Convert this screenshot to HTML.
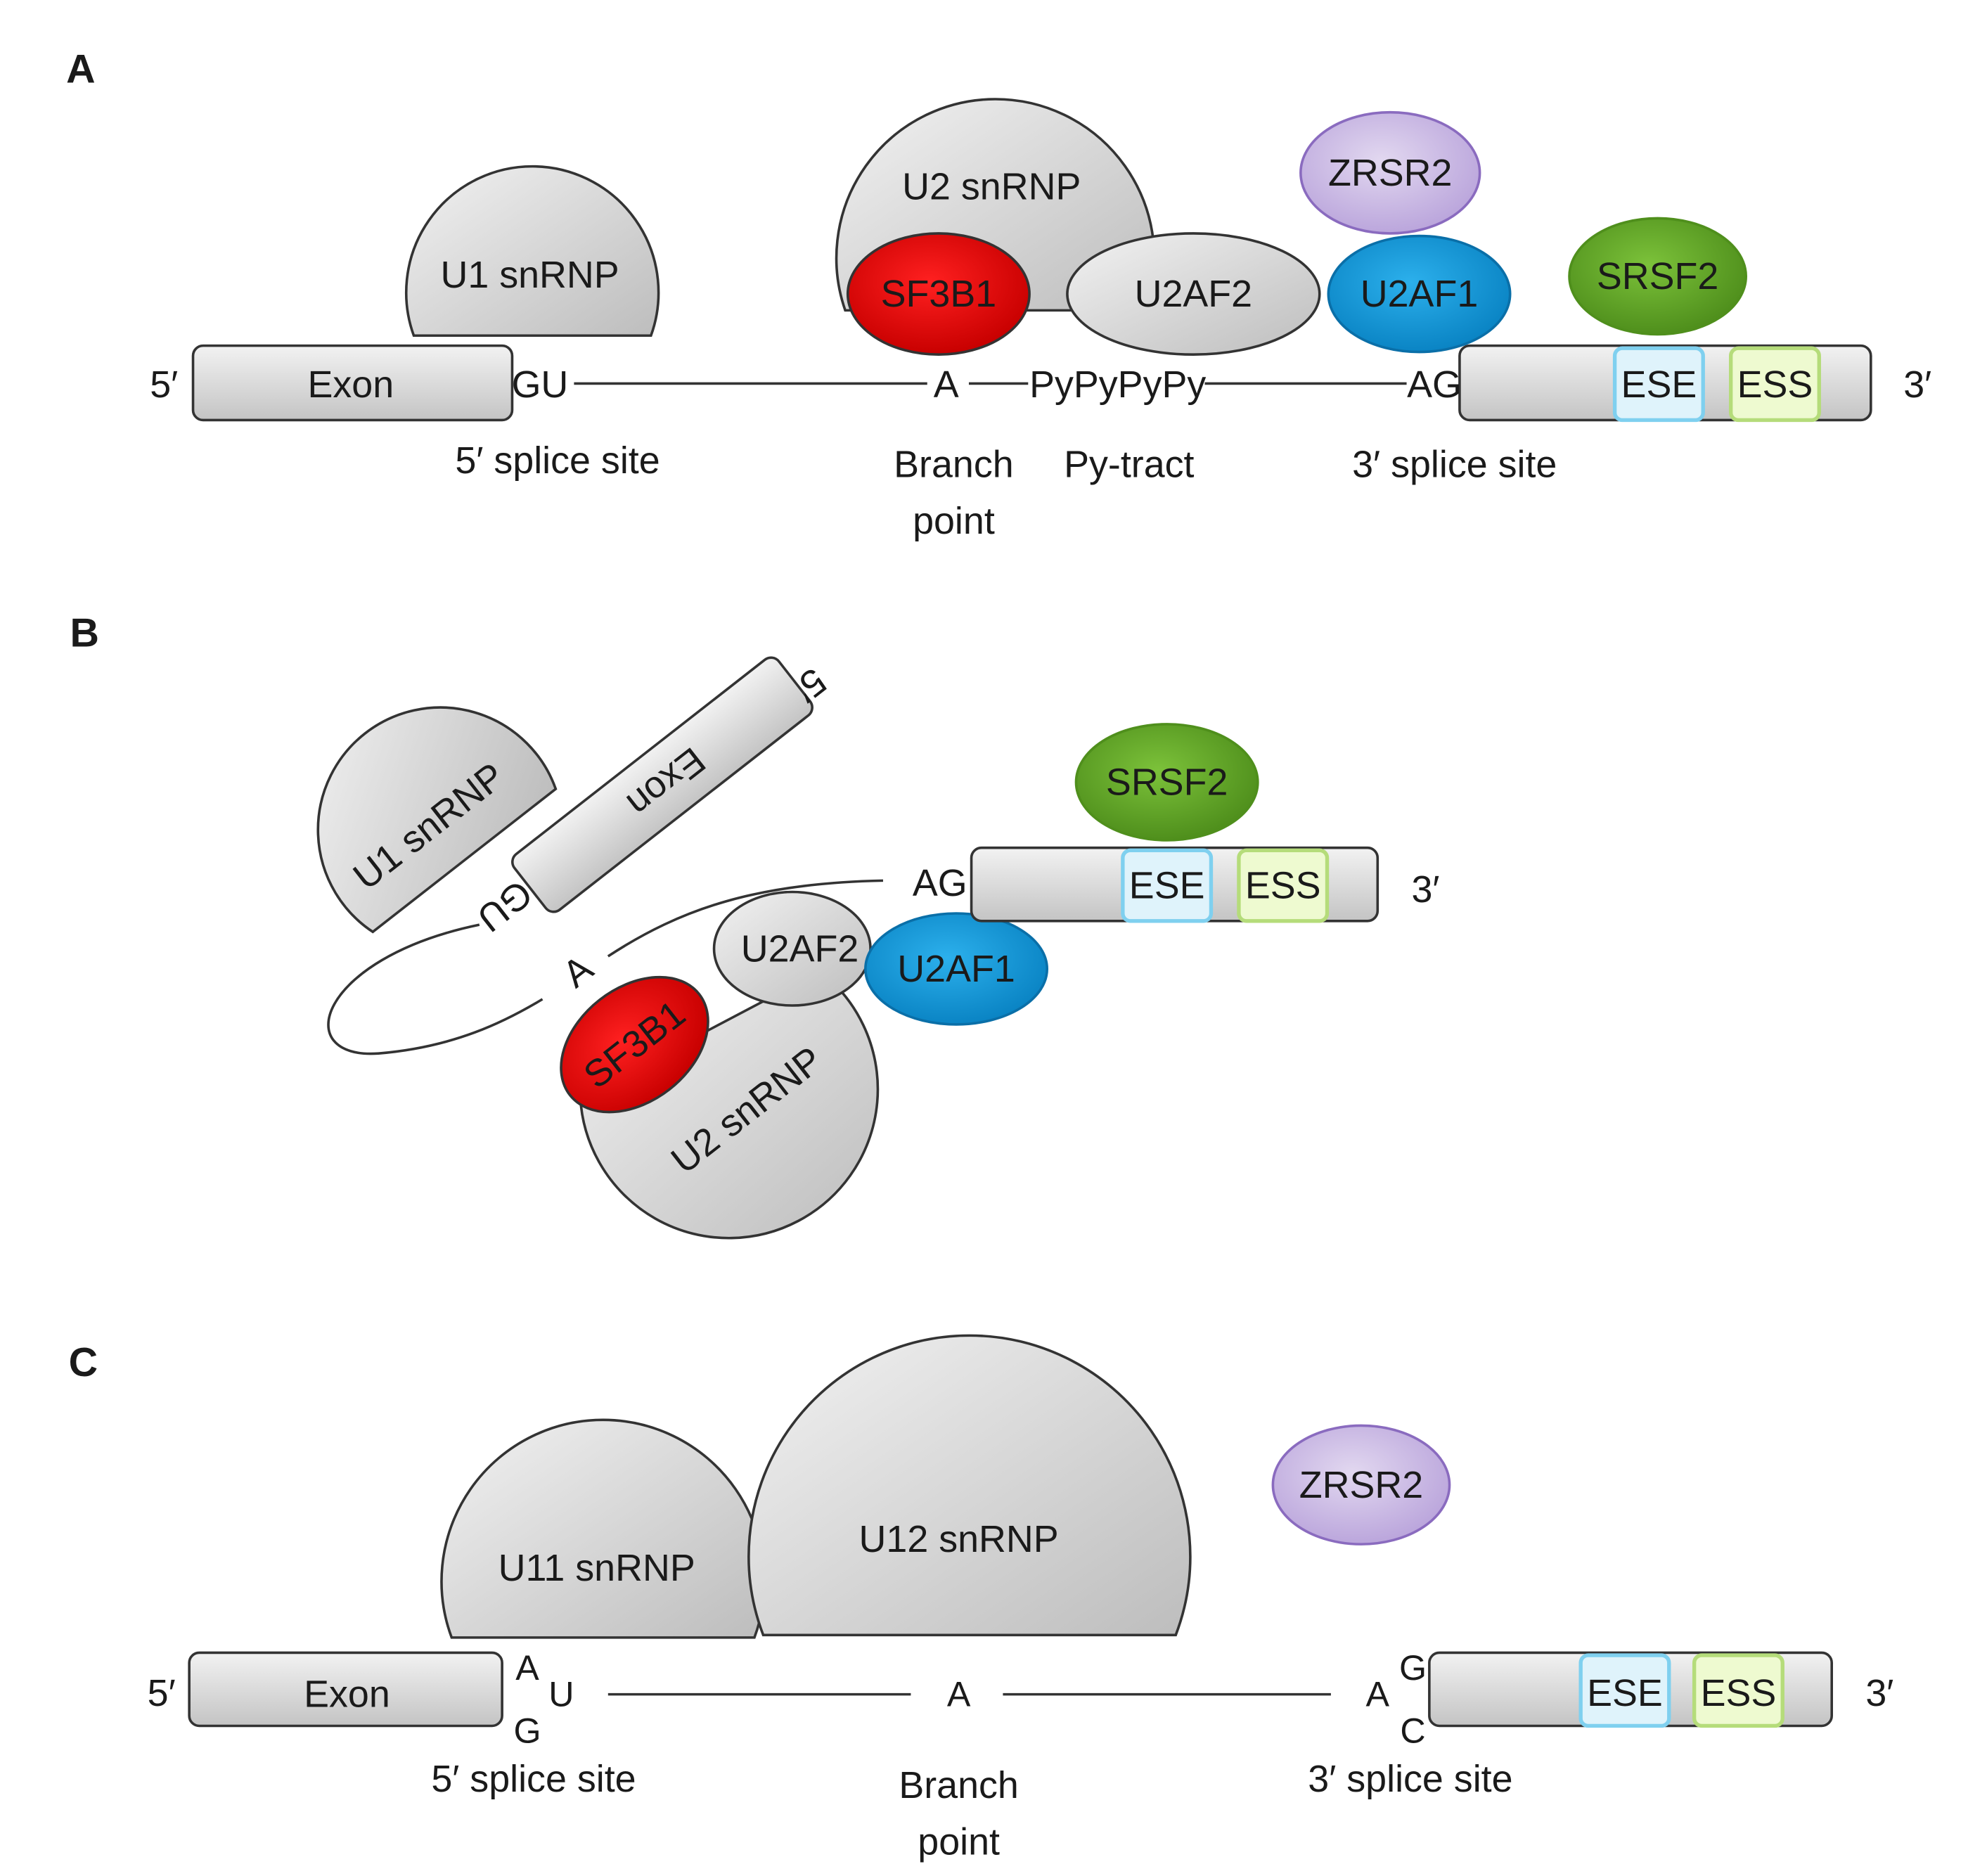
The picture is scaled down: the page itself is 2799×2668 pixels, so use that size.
<!DOCTYPE html>
<html><head><meta charset="utf-8"><style>
html,body{margin:0;padding:0;background:#fff}
svg{display:block}
text{font-family:"Liberation Sans",sans-serif;fill:#1a1a1a}
</style></head><body>
<svg width="2799" height="2668" viewBox="0 0 1560 1487" xmlns="http://www.w3.org/2000/svg">
<defs>
<linearGradient id="g" x1="0" y1="0" x2="1" y2="1"><stop offset="0" stop-color="#f2f2f2"/><stop offset="1" stop-color="#bdbdbd"/></linearGradient>
<linearGradient id="gb" x1="0" y1="0" x2="0" y2="1"><stop offset="0" stop-color="#f2f2f2"/><stop offset="1" stop-color="#c4c4c4"/></linearGradient>
<radialGradient id="red" cx="0.45" cy="0.4" r="0.6"><stop offset="0" stop-color="#ff2020"/><stop offset="1" stop-color="#c80000"/></radialGradient>
<radialGradient id="blue" cx="0.45" cy="0.4" r="0.6"><stop offset="0" stop-color="#2cb0ec"/><stop offset="1" stop-color="#0a84c4"/></radialGradient>
<radialGradient id="green" cx="0.45" cy="0.4" r="0.6"><stop offset="0" stop-color="#7cc23a"/><stop offset="1" stop-color="#4f8f1c"/></radialGradient>
<radialGradient id="purple" cx="0.45" cy="0.4" r="0.6"><stop offset="0" stop-color="#e2d8f0"/><stop offset="1" stop-color="#bba6dc"/></radialGradient>
</defs>
<g stroke="#333" stroke-width="2">
<!-- Panel A -->
<rect x="153" y="274" width="253" height="59" rx="8" fill="url(#gb)"/>
<path d="M328 266 A100 100 0 1 1 516 266 Z" fill="url(#g)"/>
<line x1="455" y1="304" x2="735" y2="304"/>
<line x1="768" y1="304" x2="815" y2="304"/>
<line x1="955" y1="304" x2="1115" y2="304"/>
<rect x="1157" y="274" width="326" height="59" rx="8" fill="url(#gb)"/>
<rect x="1280" y="276" width="70" height="57" rx="6" fill="#dff3fb" stroke="#7fd0ef" stroke-width="3"/>
<rect x="1372" y="276" width="70" height="57" rx="6" fill="#eefad0" stroke="#b5dc7a" stroke-width="3"/>
<path d="M670 246 A126 126 0 1 1 908 246 Z" fill="url(#g)"/>
<ellipse cx="744" cy="233" rx="72" ry="48" fill="url(#red)"/>
<ellipse cx="946" cy="233" rx="100" ry="48" fill="url(#g)"/>
<ellipse cx="1125" cy="233" rx="72" ry="46" fill="url(#blue)" stroke="#0a6fa8"/>
<ellipse cx="1102" cy="137" rx="71" ry="48" fill="url(#purple)" stroke="#8a6bbf"/>
<ellipse cx="1314" cy="219" rx="70" ry="46" fill="url(#green)" stroke="#4f8f1c"/>
<!-- Panel B -->
<path d="M380 733 C250 760 230 840 300 835 C360 830 400 810 430 792" fill="none"/>
<path d="M482 758 C540 720 600 700 700 698" fill="none"/>
<g transform="translate(525 622) rotate(-38)"><rect x="-133" y="-28" width="266" height="56" rx="8" fill="url(#gb)"/></g>
<g transform="translate(368 682) rotate(-38)"><path d="M-92 0 A97 97 0 1 1 92 0 Z" fill="url(#g)"/></g>
<path d="M650 770 A118 118 0 1 1 460 870 Z" fill="url(#g)"/>
<ellipse cx="503" cy="828" rx="65" ry="45" transform="rotate(-38 503 828)" fill="url(#red)"/>
<ellipse cx="628" cy="752" rx="62" ry="45" fill="url(#g)"/>
<ellipse cx="758" cy="768" rx="72" ry="44" fill="url(#blue)" stroke="#0a6fa8"/>
<rect x="770" y="672" width="322" height="58" rx="8" fill="url(#gb)"/>
<rect x="890" y="674" width="70" height="56" rx="6" fill="#dff3fb" stroke="#7fd0ef" stroke-width="3"/>
<rect x="982" y="674" width="70" height="56" rx="6" fill="#eefad0" stroke="#b5dc7a" stroke-width="3"/>
<ellipse cx="925" cy="620" rx="72" ry="46" fill="url(#green)" stroke="#4f8f1c"/>
<!-- Panel C -->
<rect x="150" y="1310" width="248" height="58" rx="8" fill="url(#gb)"/>
<path d="M358 1298 A128 128 0 1 1 598 1298 Z" fill="url(#g)"/>
<path d="M605 1296 A175 175 0 1 1 932 1296 Z" fill="url(#g)"/>
<ellipse cx="1079" cy="1177" rx="70" ry="47" fill="url(#purple)" stroke="#8a6bbf"/>
<line x1="482" y1="1343" x2="722" y2="1343"/>
<line x1="795" y1="1343" x2="1055" y2="1343"/>
<rect x="1133" y="1310" width="319" height="58" rx="8" fill="url(#gb)"/>
<rect x="1253" y="1312" width="70" height="56" rx="6" fill="#dff3fb" stroke="#7fd0ef" stroke-width="3"/>
<rect x="1343" y="1312" width="70" height="56" rx="6" fill="#eefad0" stroke="#b5dc7a" stroke-width="3"/>
</g>
<g font-size="30" text-anchor="middle" dominant-baseline="central">
<text x="64" y="55" font-weight="bold" font-size="32">A</text>
<text x="130" y="305">5′</text>
<text x="278" y="305">Exon</text>
<text x="420" y="218">U1 snRNP</text>
<text x="428" y="305">GU</text>
<text x="750" y="305">A</text>
<text x="886" y="305">PyPyPyPy</text>
<text x="1137" y="305">AG</text>
<text x="1315" y="305">ESE</text>
<text x="1407" y="305">ESS</text>
<text x="1520" y="305">3′</text>
<text x="442" y="365">5′ splice site</text>
<text x="756" y="368">Branch</text>
<text x="756" y="413">point</text>
<text x="895" y="368">Py-tract</text>
<text x="1153" y="368">3′ splice site</text>
<text x="786" y="148">U2 snRNP</text>
<text x="744" y="233">SF3B1</text>
<text x="946" y="233">U2AF2</text>
<text x="1125" y="233">U2AF1</text>
<text x="1102" y="137">ZRSR2</text>
<text x="1314" y="219">SRSF2</text>

<text x="67" y="502" font-weight="bold" font-size="32">B</text>
<text transform="translate(528 620) rotate(142)">Exon</text>
<text transform="translate(642 543) rotate(142)">5′</text>
<text transform="translate(340 655) rotate(-38)">U1 snRNP</text>
<text transform="translate(400 718) rotate(142)">GU</text>
<text transform="translate(458 770) rotate(-38)">A</text>
<text transform="translate(503 828) rotate(-38)">SF3B1</text>
<text transform="translate(592 880) rotate(-38)">U2 snRNP</text>
<text x="634" y="752">U2AF2</text>
<text x="758" y="768">U2AF1</text>
<text x="745" y="700">AG</text>
<text x="925" y="702">ESE</text>
<text x="1017" y="702">ESS</text>
<text x="1130" y="705">3′</text>
<text x="925" y="620">SRSF2</text>

<text x="66" y="1080" font-weight="bold" font-size="32">C</text>
<text x="128" y="1342">5′</text>
<text x="275" y="1343">Exon</text>
<text x="473" y="1243">U11 snRNP</text>
<text x="760" y="1220">U12 snRNP</text>
<text x="1079" y="1177">ZRSR2</text>
<text x="418" y="1322" font-size="28">A</text>
<text x="445" y="1343" font-size="28">U</text>
<text x="418" y="1372" font-size="28">G</text>
<text x="760" y="1343" font-size="28">A</text>
<text x="1092" y="1343" font-size="28">A</text>
<text x="1120" y="1322" font-size="28">G</text>
<text x="1120" y="1372" font-size="28">C</text>
<text x="1288" y="1342">ESE</text>
<text x="1378" y="1342">ESS</text>
<text x="1490" y="1342">3′</text>
<text x="423" y="1410">5′ splice site</text>
<text x="760" y="1415">Branch</text>
<text x="760" y="1460">point</text>
<text x="1118" y="1410">3′ splice site</text>
</g>
</svg>
</body></html>
